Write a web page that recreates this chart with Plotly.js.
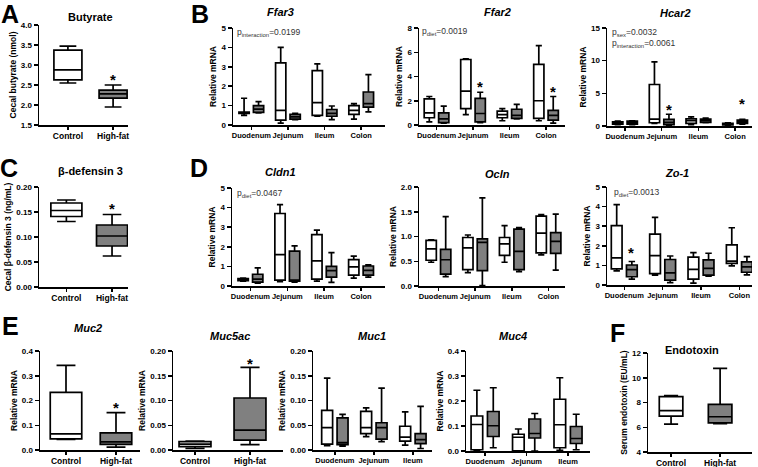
<!DOCTYPE html>
<html>
<head>
<meta charset="utf-8">
<script src="https://cdn.plot.ly/plotly-3.0.1.min.js"></script>
<style>
  html, body { margin: 0; padding: 0; background: #fff; }
  #chart { width: 758px; height: 467px; }
</style>
</head>
<body>
<div id="chart"></div>
<script>
// Gut panel figure: GraphPad-style box plots, control (white) vs high-fat (grey).

const W = 758, H = 467;

const diets = ['Control', 'High-fat'];
const segments = ['Duodenum', 'Jejunum', 'Ileum', 'Colon'];
const segments3 = ['Duodenum', 'Jejunum', 'Ileum'];

// every row: [lower whisker, Q1, median, Q3, upper whisker]
const butyrate  = [[2.55, 2.63, 2.88, 3.37, 3.47], [1.95, 2.17, 2.28, 2.37, 2.50]];
const defensin3 = [[0.131, 0.141, 0.153, 0.168, 0.174], [0.062, 0.082, 0.102, 0.124, 0.145]];
const muc2      = [[0.043, 0.045, 0.065, 0.233, 0.342], [0.012, 0.023, 0.033, 0.069, 0.151]];
const muc5ac    = [[0.003, 0.007, 0.012, 0.017, 0.018], [0.011, 0.020, 0.040, 0.105, 0.167]];
const endotoxin = [[6.25, 6.90, 7.35, 8.48, 8.55], [6.30, 6.35, 6.85, 7.85, 10.75]];

const ffar3Ctrl = [[0.50, 0.60, 0.63, 0.66, 1.38], [0.10, 0.25, 0.75, 3.20, 4.00], [0.45, 0.50, 1.15, 2.80, 3.15], [0.30, 0.55, 0.75, 1.00, 1.10]];
const ffar3Hf   = [[0.62, 0.65, 0.82, 1.00, 1.20], [0.28, 0.30, 0.42, 0.55, 0.60], [0.28, 0.45, 0.60, 0.80, 0.98], [0.68, 0.92, 1.10, 1.70, 2.60]];
const ffar2Ctrl = [[0.25, 0.60, 1.00, 2.15, 2.35], [0.85, 1.35, 2.80, 5.40, 5.45], [0.35, 0.60, 0.85, 1.15, 1.35], [0.35, 0.55, 2.00, 5.00, 6.55]];
const ffar2Hf   = [[0.15, 0.20, 0.50, 1.00, 1.55], [0.20, 0.25, 0.95, 2.20, 2.70], [0.50, 0.55, 0.80, 1.30, 1.70], [0.15, 0.40, 0.80, 1.20, 2.35]];
const hcar2Ctrl = [[0.20, 0.30, 0.50, 0.65, 0.75], [0.40, 0.50, 1.05, 6.35, 9.80], [0.20, 0.40, 0.80, 1.10, 1.40], [0.10, 0.15, 0.30, 0.40, 0.50]];
const hcar2Hf   = [[0.20, 0.30, 0.55, 0.75, 0.80], [0.10, 0.20, 0.55, 1.00, 1.80], [0.50, 0.55, 0.85, 1.05, 1.20], [0.30, 0.40, 0.65, 0.90, 1.00]];
const cldn1Ctrl = [[0.25, 0.27, 0.32, 0.38, 0.40], [0.22, 0.30, 1.60, 3.70, 4.15], [0.25, 0.35, 1.28, 2.62, 2.85], [0.40, 0.55, 0.98, 1.35, 1.52]];
const cldn1Hf   = [[0.15, 0.20, 0.35, 0.60, 0.92], [0.20, 0.25, 0.30, 1.78, 2.05], [0.18, 0.45, 0.78, 1.00, 1.70], [0.45, 0.55, 0.80, 1.02, 1.08]];
const oclnCtrl  = [[0.48, 0.52, 0.75, 0.92, 0.93], [0.27, 0.33, 0.77, 0.98, 1.03], [0.48, 0.62, 0.85, 0.98, 1.22], [0.63, 0.67, 1.07, 1.41, 1.44]];
const oclnHf    = [[0.19, 0.24, 0.53, 0.74, 1.40], [0.01, 0.31, 0.88, 0.95, 1.78], [0.29, 0.33, 0.70, 1.15, 1.18], [0.32, 0.66, 0.90, 1.08, 1.45]];
const zo1Ctrl   = [[0.72, 0.82, 1.38, 3.03, 4.10], [0.50, 0.58, 1.50, 2.60, 3.45], [0.10, 0.30, 0.80, 1.42, 1.65], [0.98, 1.10, 1.22, 2.05, 2.92]];
const zo1Hf     = [[0.30, 0.42, 0.78, 1.02, 1.20], [0.12, 0.25, 0.62, 1.30, 1.48], [0.45, 0.50, 0.85, 1.28, 1.62], [0.52, 0.65, 0.92, 1.18, 1.45]];
const muc1Ctrl  = [[0.009, 0.012, 0.045, 0.080, 0.145], [0.027, 0.033, 0.045, 0.078, 0.085], [0.010, 0.018, 0.026, 0.048, 0.077]];
const muc1Hf    = [[0.008, 0.011, 0.015, 0.065, 0.072], [0.017, 0.022, 0.045, 0.055, 0.125], [0.003, 0.013, 0.021, 0.033, 0.088]];
const muc4Ctrl  = [[0.003, 0.005, 0.106, 0.140, 0.243], [0.000, 0.001, 0.055, 0.067, 0.088], [0.003, 0.013, 0.105, 0.207, 0.293]];
const muc4Hf    = [[0.013, 0.058, 0.101, 0.158, 0.253], [0.000, 0.052, 0.070, 0.128, 0.150], [0.005, 0.030, 0.050, 0.098, 0.147]];

// significance stars: [subplot, category, height]
const stars = [
    [1, 'High-fat', 2.72], [3, 'Jejunum', 3.45], [3, 'Colon', 3.03],
    [4, 'Jejunum', 3.0], [4, 'Colon', 3.95], [5, 'High-fat', 0.164],
    [8, 'Duodenum', 1.83], [9, 'High-fat', 0.184], [10, 'High-fat', 0.18],
];

const pLabels = [
    ['p<sub>interaction</sub>=0.0199', 235, 33],
    ['p<sub>diet</sub>=0.0019', 420, 32],
    ['p<sub>sex</sub>=0.0032', 610, 33],
    ['p<sub>interaction</sub>=0.0061', 610, 43],
    ['p<sub>diet</sub>=0.0467', 235, 193],
    ['p<sub>diet</sub>=0.0013', 612, 192],
];

const CTRL = '#ffffff', HF = '#808080';
const FONT = 'Liberation Sans, Arial, sans-serif';

// subplot frames in page pixels: [left, right, top, bottom]; cs = category label size
const frames = {
    1:  { px: [39, 128, 25, 125],  xr: [-0.64, 1.33], yr: [1.5, 4.0], dt: 0.5,  fmt: '.1f', cs: 8.5, yt: 'Cecal butyrate (nmol)' },
    2:  { px: [233, 385, 28, 125], xr: [-0.5, 3.65],  yr: [0, 5],     dt: 1,    fmt: '',    cs: 7.5, yt: 'Relative mRNA' },
    3:  { px: [419, 565, 28, 125], xr: [-0.48, 3.52], yr: [0, 8],     dt: 2,    fmt: '',    cs: 7.5, yt: 'Relative mRNA' },
    4:  { px: [607, 752, 28, 126], xr: [-0.49, 3.46], yr: [0, 15],    dt: 5,    fmt: '',    cs: 7.5, yt: 'Relative mRNA' },
    5:  { px: [39, 128, 187, 287], xr: [-0.6, 1.35],  yr: [0, 0.2],   dt: 0.05, fmt: '.2f', cs: 8.5, yt: 'Cecal β-defensin 3 (ng/mL)' },
    6:  { px: [232, 385, 188, 286], xr: [-0.5, 3.65], yr: [0, 5],     dt: 1,    fmt: '',    cs: 7.5, yt: 'Relative mRNA' },
    7:  { px: [419, 565, 187, 286], xr: [-0.53, 3.45], yr: [0, 2],    dt: 0.5,  fmt: '.1f', cs: 7.5, yt: 'Relative mRNA' },
    8:  { px: [607, 752, 187, 285], xr: [-0.45, 3.33], yr: [0, 5],    dt: 1,    fmt: '',    cs: 7.5, yt: 'Relative mRNA' },
    9:  { px: [40, 140, 351, 450],  xr: [-0.52, 1.48], yr: [0, 0.4],  dt: 0.1,  fmt: '.1f', cs: 8.5, yt: 'Relative mRNA' },
    10: { px: [173, 283, 351, 450], xr: [-0.4, 1.6],  yr: [0, 0.2],   dt: 0.05, fmt: '.2f', cs: 8.5, yt: 'Relative mRNA' },
    11: { px: [313, 432, 351, 450], xr: [-0.56, 2.49], yr: [0, 0.2],  dt: 0.05, fmt: '.2f', cs: 7.5, yt: 'Relative mRNA' },
    12: { px: [466, 590, 351, 451], xr: [-0.46, 2.53], yr: [0, 0.4],  dt: 0.1,  fmt: '.1f', cs: 7.5, yt: 'Relative mRNA' },
    13: { px: [648, 752, 353, 452], xr: [-0.47, 1.65], yr: [4, 12],   dt: 2,    fmt: '',    cs: 8.5, yt: 'Serum endotoxin (EU/mL)' },
};

const titles = [
    ['Butyrate', 90, 17], ['<i>Ffar3</i>', 280, 12], ['<i>Ffar2</i>', 497, 12], ['<i>Hcar2</i>', 675, 13],
    ['β-defensin 3', 90, 171], ['<i>Cldn1</i>', 280, 172], ['<i>Ocln</i>', 497, 174], ['<i>Zo-1</i>', 677, 173],
    ['<i>Muc2</i>', 88, 328], ['<i>Muc5ac</i>', 230, 336], ['<i>Muc1</i>', 372, 336], ['<i>Muc4</i>', 513, 336],
    ['Endotoxin', 692, 350],
];
const letters = [['A', 10, 14], ['B', 200, 14], ['C', 9, 168], ['D', 199, 168], ['E', 10, 326], ['F', 617, 333]];

const ax = n => (n === 1 ? '' : String(n));

function boxTrace(n, cats, rows, fill, opts) {
    return Object.assign({
        type: 'box', x: cats,
        lowerfence: rows.map(r => r[0]), q1: rows.map(r => r[1]), median: rows.map(r => r[2]),
        q3: rows.map(r => r[3]), upperfence: rows.map(r => r[4]),
        fillcolor: fill, line: { color: '#000', width: 1.7 }, whiskerwidth: 0.6,
        boxpoints: false, hoverinfo: 'skip', showlegend: false,
        xaxis: 'x' + ax(n), yaxis: 'y' + ax(n),
    }, opts);
}

// two boxes on one control / high-fat axis
function pairTraces(n, rows, width) {
    return [
        boxTrace(n, [diets[0]], [rows[0]], CTRL, { width }),
        boxTrace(n, [diets[1]], [rows[1]], HF, { width }),
    ];
}
// grouped control / high-fat boxes per gut segment
function groupTraces(n, cats, ctrl, hf) {
    return [
        boxTrace(n, cats, ctrl, CTRL, { offsetgroup: 'ctrl' }),
        boxTrace(n, cats, hf, HF, { offsetgroup: 'hf' }),
    ];
}

const data = [
    ...pairTraces(1, butyrate, 0.62),
    ...groupTraces(2, segments, ffar3Ctrl, ffar3Hf),
    ...groupTraces(3, segments, ffar2Ctrl, ffar2Hf),
    ...groupTraces(4, segments, hcar2Ctrl, hcar2Hf),
    ...pairTraces(5, defensin3, 0.68),
    ...groupTraces(6, segments, cldn1Ctrl, cldn1Hf),
    ...groupTraces(7, segments, oclnCtrl, oclnHf),
    ...groupTraces(8, segments, zo1Ctrl, zo1Hf),
    ...pairTraces(9, muc2, 0.63),
    ...pairTraces(10, muc5ac, 0.58),
    ...groupTraces(11, segments3, muc1Ctrl, muc1Hf),
    ...groupTraces(12, segments3, muc4Ctrl, muc4Hf),
    ...pairTraces(13, endotoxin, 0.48),
];

const layout = {
    width: W, height: H,
    margin: { l: 0, r: 0, t: 0, b: 0 },
    paper_bgcolor: '#fff', plot_bgcolor: 'rgba(0,0,0,0)',
    boxmode: 'group', boxgap: 0.21, boxgroupgap: 0.29,
    font: { family: FONT, color: '#000' },
    annotations: [],
};

const lineStyle = {
    showline: true, linecolor: '#000', linewidth: 1.5, mirror: false,
    ticks: 'outside', ticklen: 4, tickwidth: 1.5, tickcolor: '#000',
    showgrid: false, zeroline: false, fixedrange: true,
};

Object.entries(frames).forEach(([key, f]) => {
    const n = +key;
    const [x0, x1, y0, y1] = f.px;
    layout['xaxis' + ax(n)] = Object.assign({}, lineStyle, {
        domain: [x0 / W, x1 / W], anchor: 'y' + ax(n), type: 'category',
        range: f.xr, tickangle: 0, ticklen: 3, ticklabelstandoff: -1,
        tickfont: { family: FONT, size: f.cs, weight: 'bold' },
    });
    layout['yaxis' + ax(n)] = Object.assign({}, lineStyle, {
        domain: [1 - y1 / H, 1 - y0 / H], anchor: 'x' + ax(n),
        range: f.yr, dtick: f.dt, tick0: f.yr[0], tickformat: f.fmt,
        tickfont: { family: FONT, size: 8, weight: 'bold' },
        title: { text: f.yt, font: { family: FONT, size: 8.5, weight: 'bold' }, standoff: 3 },
    });
});

titles.forEach(([text, x, y]) => layout.annotations.push({
    text, x: x / W, y: 1 - y / H, xref: 'paper', yref: 'paper', showarrow: false,
    xanchor: 'center', yanchor: 'middle',
    font: { family: FONT, size: 11, weight: 'bold' },
}));
letters.forEach(([text, x, y]) => layout.annotations.push({
    text, x: x / W, y: 1 - y / H, xref: 'paper', yref: 'paper', showarrow: false,
    xanchor: 'center', yanchor: 'middle',
    font: { family: FONT, size: 25, weight: 'bold' },
}));
pLabels.forEach(([text, x, y]) => layout.annotations.push({
    text, x: x / W, y: 1 - y / H, xref: 'paper', yref: 'paper', showarrow: false,
    xanchor: 'left', yanchor: 'middle',
    font: { family: FONT, size: 8.5, color: '#333' },
}));
stars.forEach(([n, cat, y]) => layout.annotations.push({
    text: '*', x: cat, y, xref: 'x' + ax(n), yref: 'y' + ax(n), showarrow: false,
    xanchor: 'center', yanchor: 'middle', yshift: -3,
    xshift: diets.includes(cat) ? 0 : 7,
    font: { family: FONT, size: 15, weight: 'bold' },
}));

Plotly.newPlot('chart', data, layout, { displayModeBar: false, staticPlot: true });
</script>
</body>
</html>
